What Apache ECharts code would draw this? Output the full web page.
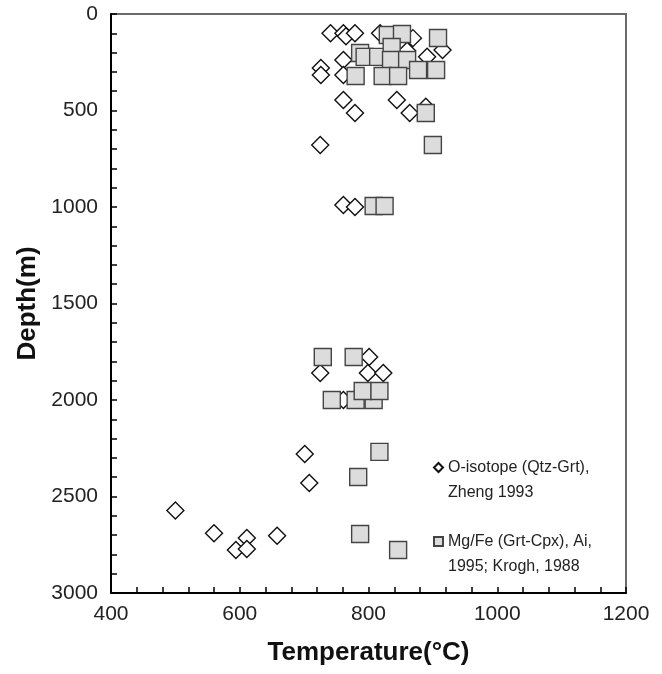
<!DOCTYPE html>
<html>
<head>
<meta charset="utf-8">
<script src="https://cdn.jsdelivr.net/npm/echarts@6/dist/echarts.min.js"></script>
<style>
  html, body { margin: 0; padding: 0; background: #fff; }
  #main { width: 662px; height: 674px; }
</style>
</head>
<body>
<div id="main"></div>
<script>
// O-isotope (Qtz-Grt), Zheng 1993
var tempO = [741, 761, 765, 779, 818, 869, 860, 761, 726, 726, 761, 891, 915, 761, 779, 844, 864, 889, 725, 761, 779,
  801, 725, 799, 823, 761, 701, 708, 500, 560, 594, 611, 611, 658];
var depthO = [100, 100, 115, 100, 100, 125, 190, 238, 280, 316, 316, 222, 187, 446, 513, 446, 513, 480, 679, 990, 1000,
  1777, 1860, 1860, 1860, 2000, 2280, 2430, 2573, 2690, 2777, 2715, 2772, 2703];

// Mg/Fe (Grt-Cpx), Ai 1995; Krogh 1988
var tempMg = [830, 852, 908, 787, 794, 815, 836, 835, 860, 877, 905, 780, 822, 846, 889, 900, 808, 825,
  729, 777, 743, 780, 808, 791, 817, 817, 784, 787, 846];
var depthMg = [109, 104, 124, 202, 222, 222, 171, 238, 238, 290, 290, 321, 321, 321, 513, 679, 995, 995,
  1777, 1777, 2000, 2000, 2000, 1953, 1953, 2269, 2399, 2694, 2777];

// leading blank line keeps the marker level with the first text line
var nameO = '\nO-isotope (Qtz-Grt),\nZheng 1993';
var nameMg = '\nMg/Fe (Grt-Cpx), Ai,\n1995; Krogh, 1988';

function zip(xs, ys) {
  var out = [];
  xs.forEach(function (x, i) { out.push([x, ys[i]]); });
  return out;
}

var font = "'Liberation Sans', Arial, sans-serif";
var chart = echarts.init(document.getElementById('main'));

var legendText = { fontFamily: font, fontSize: 16, lineHeight: 25, color: '#222' };
var plain = function (v) { return String(v); };

var option = {
  animation: false,
  grid: {
    left: 111, right: 36, top: 14, bottom: 81,
    containLabel: false, outerBoundsMode: 'none',
    show: true, borderColor: '#6b6b6b', borderWidth: 2
  },
  legend: [{
    data: [nameO], orient: 'vertical', left: 428, top: 425,
    itemWidth: 9, itemHeight: 9, textStyle: legendText
  }, {
    data: [nameMg], orient: 'vertical', left: 428, top: 499,
    itemWidth: 9, itemHeight: 9, textStyle: legendText
  }],
  xAxis: {
    type: 'value', min: 400, max: 1200, interval: 200, position: 'bottom',
    name: 'Temperature(°C)', nameLocation: 'middle', nameGap: 47,
    nameTextStyle: { fontFamily: font, fontSize: 26, fontWeight: 'bold', color: '#111' },
    axisLine: { onZero: false, lineStyle: { color: '#000', width: 2 } },
    axisTick: { inside: true, length: 6, lineStyle: { color: '#000', width: 1.5 } },
    minorTick: { show: true, splitNumber: 5, length: 6, lineStyle: { color: '#000', width: 1.5 } },
    axisLabel: { fontFamily: font, fontSize: 21, color: '#222', margin: 11, formatter: plain },
    splitLine: { show: false }
  },
  yAxis: {
    type: 'value', min: 0, max: 3000, interval: 500, inverse: true, position: 'left',
    name: 'Depth(m)', nameLocation: 'middle', nameGap: 70,
    nameTextStyle: { fontFamily: font, fontSize: 26, fontWeight: 'bold', color: '#111' },
    axisLine: { onZero: false, lineStyle: { color: '#000', width: 2 } },
    axisTick: { inside: true, length: 6, lineStyle: { color: '#000', width: 1.5 } },
    minorTick: { show: true, splitNumber: 5, length: 6, lineStyle: { color: '#000', width: 1.5 } },
    axisLabel: { fontFamily: font, fontSize: 21, color: '#222', margin: 13, formatter: plain },
    splitLine: { show: false }
  },
  series: [{
    name: nameO,
    type: 'scatter',
    symbol: 'diamond',
    symbolSize: 17,
    itemStyle: { color: '#fff', borderColor: '#111', borderWidth: 1.4, opacity: 1 },
    data: zip(tempO, depthO)
  }, {
    name: nameMg,
    type: 'scatter',
    symbol: 'rect',
    symbolSize: 17,
    itemStyle: { color: '#dcdcdc', borderColor: '#444', borderWidth: 1.4, opacity: 1 },
    data: zip(tempMg, depthMg)
  }]
};

chart.setOption(option);
</script>
</body>
</html>
